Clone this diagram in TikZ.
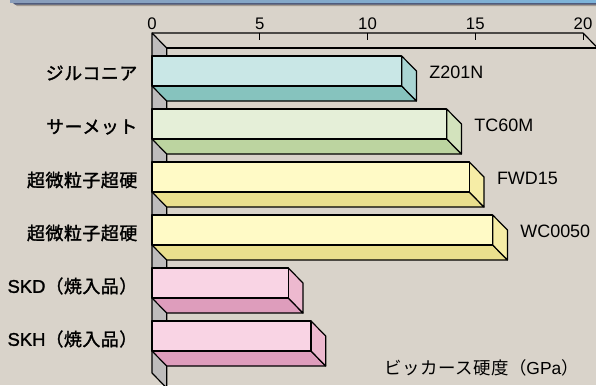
\documentclass[tikz,border=0pt]{standalone}
\usepackage{fontspec}
\setmainfont{Liberation Sans}
\newfontfamily\jpf{Noto Sans CJK JP}[LetterSpace=3,FakeBold=1.6]
\newfontfamily\jpr{Noto Sans CJK JP}[LetterSpace=3]
\newfontfamily\latb{Liberation Sans}[FakeBold=1.4]
\definecolor{bgc}{HTML}{D9D3CA}
\definecolor{wallc}{HTML}{BEBCBC}
\definecolor{zF}{HTML}{C9E7E6}
\definecolor{zB}{HTML}{86C3BE}
\definecolor{zS}{HTML}{A9D5D3}
\definecolor{cF}{HTML}{E5EFD8}
\definecolor{cB}{HTML}{BCD4A0}
\definecolor{cS}{HTML}{D3E3BD}
\definecolor{yF}{HTML}{FFFAC6}
\definecolor{yB}{HTML}{EADF8D}
\definecolor{yS}{HTML}{F6EDA6}
\definecolor{pF}{HTML}{F9D4E4}
\definecolor{pB}{HTML}{DE9DBC}
\definecolor{pS}{HTML}{EDB9CF}
\definecolor{barA}{HTML}{8A9DBA}
\definecolor{barB}{HTML}{7DB4DA}
\definecolor{barD}{HTML}{4F5B7C}
\definecolor{barS}{HTML}{A39A90}
\begin{document}
\begin{tikzpicture}[x=1bp,y=-1bp,
  edge/.style={draw=black, line width=1.2bp, line join=round},
  thin/.style={draw=black, line width=1bp},
  llab/.style={anchor=east, inner sep=0pt, font=\fontsize{18}{18}\selectfont},
  rlab/.style={anchor=west, inner sep=0pt, font=\fontsize{18}{20}\selectfont},
  num/.style={anchor=south, inner sep=0pt, font=\fontsize{16.8}{18}\selectfont}]
\useasboundingbox (0,0) rectangle (596,385);
\clip (0,0) rectangle (596,385);
\fill[bgc] (0,0) rectangle (596,385);
% top band
\fill[barS] (14,3.5) -- (596,3.5) -- (596,6) -- (17,6) -- cycle;
\fill[barD] (11,1.5) -- (596,1.5) -- (596,4.5) -- (15,4.5) -- cycle;
\shade[left color=barA, right color=barB] (10,0) rectangle (596,2);
% wall (left) and ceiling
\path[edge, fill=wallc] (152,33) -- (166.7,48) -- (166.7,388) -- (152,373) -- cycle;
\draw[edge] (152,33) -- (583,33) -- (597.7,48);
\draw[edge] (166.7,48) -- (600,48);
\foreach \k in {5,10,15,20}{
  \draw[thin] (152+21.55*\k,33) -- (152+21.55*\k,40);
}
\foreach \k/\nm in {0/a0,5/a5,10/a10,15/a15,20/a20}{
  \node[num] (\nm) at (152+21.55*\k,29.5) {\k};
}
% bars
\foreach \i/\t/\xe/\fc/\bc/\sc/\lab in {
  1/56/401.7/zF/zB/zS/Z201N,
  2/109/446.7/cF/cB/cS/TC60M,
  3/162/469.3/yF/yB/yS/FWD15,
  4/215/492.7/yF/yB/yS/WC0050,
  5/268/288.3/pF/pB/pS/,
  6/321/311/pF/pB/pS/}{
  \path[edge, fill=\bc] (152,\t+30) -- (\xe,\t+30) -- (\xe+14.7,\t+45) -- (166.7,\t+45) -- cycle;
  \path[edge, fill=\sc] (\xe,\t) -- (\xe+14.7,\t+15) -- (\xe+14.7,\t+45) -- (\xe,\t+30) -- cycle;
  \path[edge, fill=\fc] (152,\t) rectangle (\xe,\t+30);
  \node[rlab] (v\i) at (\xe+27.5,\t+16) {\lab};
}
% left labels
\node[llab] (n1) at (137.5,73) {\jpf ジルコニア};
\node[llab] (n2) at (137.5,127) {\jpf サーメット};
\node[llab] (n3) at (137.5,180) {\jpf 超微粒子超硬};
\node[llab] (n4) at (137.5,233) {\jpf 超微粒子超硬};
\node[llab] (n5) at (137.5,286) {\latb\fontsize{18.5}{20}\selectfont SKD\jpf\fontsize{18}{18}\selectfont （焼入品）};
\node[llab] (n6) at (137.5,339) {\latb\fontsize{18.5}{20}\selectfont SKH\jpf\fontsize{18}{18}\selectfont （焼入品）};
\node[anchor=east, inner sep=0pt] (unit) at (579,368) {\fontsize{17.5}{18}\selectfont\jpr ビッカース硬度（\rmfamily\fontsize{17.5}{18}\selectfont GPa\jpr\fontsize{17.5}{18}\selectfont ）};
\end{tikzpicture}
\end{document}
